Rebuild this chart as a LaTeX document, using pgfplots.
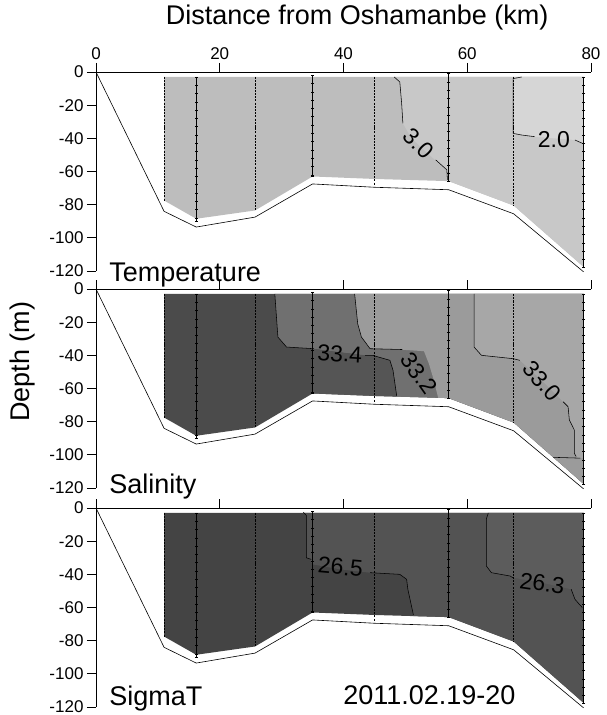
\documentclass[border=0pt]{standalone}
\usepackage{pgfplots}
\pgfplotsset{compat=1.18}
\usepackage{pgfplotstable}
\usepackage{fontspec}
\setmainfont{Liberation Sans}

\definecolor{tA}{HTML}{BDBDBD}
\definecolor{tB}{HTML}{C8C8C8}
\definecolor{tC}{HTML}{D6D6D6}
\definecolor{sA}{HTML}{4B4B4B}
\definecolor{sAb}{HTML}{555555}
\definecolor{sB}{HTML}{707070}
\definecolor{sC}{HTML}{9B9B9B}
\definecolor{sD}{HTML}{A7A7A7}
\definecolor{gA}{HTML}{444444}
\definecolor{gB}{HTML}{535353}
\definecolor{gC}{HTML}{5C5C5C}

% bottom topography
\pgfplotstableread[row sep=\\]{x y\\0 0\\11 -84\\16.2 -93.5\\25.7 -87.5\\35 -67.5\\45 -69.5\\57 -71\\67.5 -85.5\\78.8 -120.5\\}\topo
% data region
\pgfplotstableread[row sep=\\]{x y\\11 -3\\78.8 -3\\78.8 -117.5\\67.5 -80.5\\57 -65.8\\45 -64.5\\35 -63\\25.7 -83.5\\16.2 -88.5\\11 -77.5\\}\basepoly
% stations
\pgfplotstableread[row sep=\\]{x y\\11 -3\\11 -8\\11 -13\\11 -18\\11 -23\\11 -28\\11 -33\\11 -38\\11 -43\\11 -48\\11 -53\\11 -58\\11 -63\\11 -68\\11 -73\\11 -77.5\\}\stA
\pgfplotstableread[row sep=\\]{x y\\16.2 -3\\16.2 -8\\16.2 -13\\16.2 -18\\16.2 -23\\16.2 -28\\16.2 -33\\16.2 -38\\16.2 -43\\16.2 -48\\16.2 -53\\16.2 -58\\16.2 -63\\16.2 -68\\16.2 -73\\16.2 -78\\16.2 -83\\16.2 -88\\16.2 -90\\}\stB
\pgfplotstableread[row sep=\\]{x y\\25.7 -3\\25.7 -8\\25.7 -13\\25.7 -18\\25.7 -23\\25.7 -28\\25.7 -33\\25.7 -38\\25.7 -43\\25.7 -48\\25.7 -53\\25.7 -58\\25.7 -63\\25.7 -68\\25.7 -73\\25.7 -78\\25.7 -83\\}\stC
\pgfplotstableread[row sep=\\]{x y\\35 -2\\35 -7\\35 -12\\35 -17\\35 -22\\35 -27\\35 -32\\35 -37\\35 -42\\35 -47\\35 -52\\35 -57\\35 -62\\35 -63\\}\stD
\pgfplotstableread[row sep=\\]{x y\\45 -3\\45 -8\\45 -13\\45 -18\\45 -23\\45 -28\\45 -33\\45 -38\\45 -43\\45 -48\\45 -53\\45 -58\\45 -63\\45 -68\\}\stE
\pgfplotstableread[row sep=\\]{x y\\57 -1\\57 -6\\57 -11\\57 -16\\57 -21\\57 -26\\57 -31\\57 -36\\57 -41\\57 -46\\57 -51\\57 -56\\57 -61\\57 -66\\}\stF
\pgfplotstableread[row sep=\\]{x y\\67.5 -3\\67.5 -8\\67.5 -13\\67.5 -18\\67.5 -23\\67.5 -28\\67.5 -33\\67.5 -38\\67.5 -43\\67.5 -48\\67.5 -53\\67.5 -58\\67.5 -63\\67.5 -68\\67.5 -73\\67.5 -78\\67.5 -81\\}\stG
\pgfplotstableread[row sep=\\]{x y\\78.8 -3\\78.8 -8\\78.8 -13\\78.8 -18\\78.8 -23\\78.8 -28\\78.8 -33\\78.8 -38\\78.8 -43\\78.8 -48\\78.8 -53\\78.8 -58\\78.8 -63\\78.8 -68\\78.8 -73\\78.8 -78\\78.8 -83\\78.8 -88\\78.8 -93\\78.8 -98\\78.8 -103\\78.8 -108\\78.8 -113\\78.8 -118\\}\stH

% temperature regions
\pgfplotstableread[row sep=\\]{x y\\48.2 -3\\49.1 -6\\49.4 -19\\49.6 -31\\51 -40\\53 -47\\54.8 -53\\56.1 -57\\56.7 -59\\56.8 -65.8\\57 -65.8\\67.5 -80.5\\78.8 -117.5\\78.8 -3\\}\tThree
\pgfplotstableread[row sep=\\]{x y\\68.8 -3\\67.4 -4\\67.4 -37\\68.8 -38\\70.9 -39\\74 -40\\77.4 -41\\78.8 -43\\78.8 -3\\}\tTwo
% salinity regions
\pgfplotstableread[row sep=\\]{x y\\35 -36\\39 -38\\43.5 -40\\44.7 -40\\47.5 -43\\48 -49\\48.6 -64.9\\45 -64.5\\35 -63\\}\sFourLow
\pgfplotstableread[row sep=\\]{x y\\28.9 -3\\29.4 -29\\30.8 -35\\35 -36\\39 -38\\43.5 -40\\44.7 -40\\47.5 -43\\48 -49\\48.6 -64.9\\57 -65.8\\67.5 -80.5\\78.8 -117.5\\78.8 -3\\}\sFour
\pgfplotstableread[row sep=\\]{x y\\41.8 -3\\42.3 -21\\42.9 -29\\44.3 -36\\49 -36.5\\53 -37.5\\53.8 -45\\54.6 -55\\55.3 -65.6\\57 -65.8\\67.5 -80.5\\78.8 -117.5\\78.8 -3\\}\sTwo
\pgfplotstableread[row sep=\\]{x y\\61.1 -3\\61.1 -35\\62.3 -40\\67.4 -42\\68.5 -43\\72 -55\\75.5 -68\\76.3 -71\\76.5 -79\\77.3 -85\\77.3 -99\\77.6 -101\\78.1 -102\\78.8 -102\\78.8 -3\\}\sZero
% sigma-t regions
\pgfplotstableread[row sep=\\]{x y\\33.5 -3\\34 -4.5\\34 -30\\34.6 -31\\35 -34\\39.5 -37\\44.3 -39\\49.1 -40\\50.2 -43\\50.4 -49\\51.3 -65.2\\57 -65.8\\67.5 -80.5\\78.8 -117.5\\78.8 -3\\}\gFive
\pgfplotstableread[row sep=\\]{x y\\63.4 -3\\63.1 -6.5\\63.1 -35\\63.9 -39\\66.9 -41\\67.4 -42\\72 -45\\76.8 -49\\77.4 -55\\78.1 -58\\78.8 -60\\78.8 -3\\}\gThree

\newcommand{\stations}{%
  \addplot[black, line width=0.9pt, dash pattern=on 2pt off 1.2pt] table {\stA};
  \addplot[black, line width=0.8pt, mark=-, mark size=1.6pt, mark options={solid,line width=0.6pt}] table {\stB};
  \addplot[black, line width=0.9pt, dash pattern=on 2pt off 1.2pt] table {\stC};
  \addplot[black, line width=0.8pt, mark=-, mark size=1.6pt, mark options={solid,line width=0.6pt}] table {\stD};
  \addplot[black, line width=0.9pt, dash pattern=on 2pt off 1.2pt] table {\stE};
  \addplot[black, line width=0.8pt, mark=-, mark size=1.6pt, mark options={solid,line width=0.6pt}] table {\stF};
  \addplot[black, line width=0.9pt, dash pattern=on 2pt off 1.2pt] table {\stG};
  \addplot[black, line width=0.8pt, mark=-, mark size=1.6pt, mark options={solid,line width=0.6pt}] table {\stH};
  \addplot[black, line width=0.6pt] table {\topo};
}

\newcommand{\bigfnt}{\fontsize{27}{30}\selectfont}
\newcommand{\clab}{\fontsize{23}{26}\selectfont}

\begin{document}
\begin{tikzpicture}
\pgfplotsset{
  every axis/.append style={
    scale only axis, width=495pt, height=199pt,
    xmin=0, xmax=80, ymin=-120, ymax=0,
    axis x line=top, axis y line=left,
    axis line style={-, line width=0.7pt},
    xtick={0,20,40,60,80}, ytick={-120,-100,-80,-60,-40,-20,0},
    tick align=outside, major tick length=9pt,
    tick style={black, line width=0.7pt},
    /pgf/number format/assume math mode=true,
    ticklabel style={font=\fontsize{17}{19}\selectfont},
    clip=false,
  },
  cline/.style={black, line width=0.55pt},
}
% ---------------- Temperature
\begin{axis}[name=a1, at={(0pt,0pt)}, anchor=north west]
  \addplot[fill=tA, draw=none] table {\basepoly};
  \addplot[fill=tB, draw=none] table {\tThree};
  \addplot[fill=tC, draw=none] table {\tTwo};
  \addplot[cline] coordinates {(48.2,-3) (49.1,-6) (49.4,-19) (49.6,-31)};
  \addplot[cline] coordinates {(54.9,-53) (56.1,-57) (56.7,-59) (56.8,-65)};
  \addplot[cline] coordinates {(68.8,-3) (67.4,-4) (67.4,-37) (68.8,-38) (70.9,-39)};
  \addplot[cline] coordinates {(77.4,-41) (78.6,-43)};
  \stations
  \node[font=\clab, rotate=-45] at (axis cs:52.1,-43) {3.0};
  \node[font=\clab] at (axis cs:74,-40.5) {2.0};
  \node[font=\bigfnt, anchor=base west] at ([yshift=-10pt]axis cs:1.6,-120) {Temperature};
  \node[font=\bigfnt, anchor=base] at ([yshift=48pt]axis cs:42.2,0) {Distance from Oshamanbe (km)};
\end{axis}
% ---------------- Salinity
\begin{axis}[name=a2, at={(0pt,-217pt)}, anchor=north west, xticklabels={}]
  \addplot[fill=sA, draw=none] table {\basepoly};
  \addplot[fill=sB, draw=none] table {\sFour};
  \addplot[fill=sAb, draw=none] table {\sFourLow};
  \addplot[fill=sC, draw=none] table {\sTwo};
  \addplot[fill=sD, draw=none] table {\sZero};
  \addplot[cline] coordinates {(28.9,-3) (29.4,-29) (30.8,-35) (35.2,-36)};
  \addplot[cline] coordinates {(43.5,-40) (44.7,-40) (47.5,-43) (48,-49) (48.6,-64.5)};
  \addplot[cline] coordinates {(41.8,-3) (42.3,-21) (42.9,-29) (44.3,-36) (49.5,-36.5)};
  \addplot[cline] coordinates {(61.1,-3) (61.1,-35) (62.3,-40) (67.4,-42) (68.5,-43)};
  \addplot[cline] coordinates {(75.5,-68) (76.3,-71) (76.5,-79) (77.3,-85) (77.3,-99) (77.6,-101)};
  \addplot[cline] coordinates {(73.9,-101.5) (78.3,-102)};
  \stations
  \node[font=\clab, rotate=-3] at (axis cs:39.4,-39) {33.4};
  \node[font=\clab, rotate=-55] at (axis cs:52.2,-51) {33.2};
  \node[font=\clab, rotate=-48] at (axis cs:72.1,-55.5) {33.0};
  \node[font=\bigfnt, anchor=base west] at ([yshift=-5pt]axis cs:1.6,-120) {Salinity};
  \node[font=\bigfnt, rotate=90] at ([xshift=-73pt]axis cs:0,-44) {Depth (m)};
\end{axis}
% ---------------- SigmaT
\begin{axis}[name=a3, at={(0pt,-436pt)}, anchor=north west, xticklabels={}]
  \addplot[fill=gA, draw=none] table {\basepoly};
  \addplot[fill=gB, draw=none] table {\gFive};
  \addplot[fill=gC, draw=none] table {\gThree};
  \addplot[cline] coordinates {(33.5,-2.6) (34,-4.5) (34,-30) (34.8,-31)};
  \addplot[cline] coordinates {(44.3,-39) (49.1,-40) (50.2,-43) (50.4,-49) (51.3,-64.5)};
  \addplot[cline] coordinates {(63.4,-3) (63.1,-6.5) (63.1,-35) (63.9,-39) (66.9,-41) (67.4,-42)};
  \addplot[cline] coordinates {(76.8,-49) (77.4,-55) (78.1,-58) (78.6,-60)};
  \stations
  \node[font=\clab, rotate=-5] at (axis cs:39.5,-35.5) {26.5};
  \node[font=\clab, rotate=-8] at (axis cs:72.1,-45.5) {26.3};
  \node[font=\bigfnt, anchor=base west] at ([yshift=2pt]axis cs:1.6,-120) {SigmaT};
  \node[font=\bigfnt, anchor=base west] at ([yshift=3pt]axis cs:39.4,-120) {2011.02.19-20};
\end{axis}
\pgfresetboundingbox
\path[use as bounding box] (-96pt,72pt) rectangle (510pt,-643pt);
\end{tikzpicture}
\end{document}
